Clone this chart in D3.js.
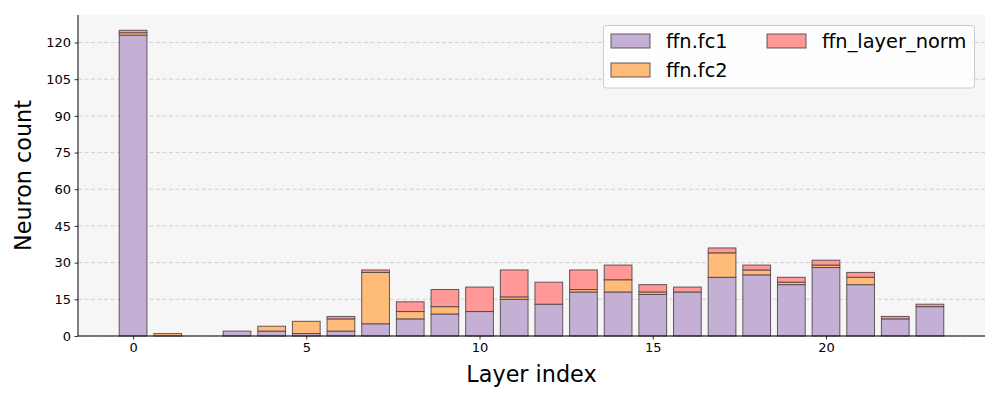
<!DOCTYPE html>
<html><head><meta charset="utf-8">
<script src="https://cdn.jsdelivr.net/npm/d3@7"></script>
<style>body{margin:0;background:#fff;} text{font-family:"DejaVu Sans",sans-serif;}</style>
</head><body><svg id="c" width="1000" height="400"></svg>
<script>
const layers = [0,1,2,3,4,5,6,7,8,9,10,11,12,13,14,15,16,17,18,19,20,21,22,23];
const fc1  = [123,0,0,2,2,1,2,5,7,9,10,15,13,18,18,17,18,24,25,21,28,21,7,12];
const fc2  = [1,1,0,0,2,5,5,21,3,3,0,1,0,1,5,1,0,10,2,1,1,3,0,0];
const norm = [1,0,0,0,0,0,1,1,4,7,10,11,9,8,6,3,2,2,2,2,2,2,1,1];
const seriesNames = ["ffn.fc1","ffn.fc2","ffn_layer_norm"];
const colors = ["#c5b0d5","#ffbb78","#ff9896"];
const yTicks = [0,15,30,45,60,75,90,105,120];
const xTicks = [0,5,10,15,20];

const svg = d3.select("#c");
const L=78,R=985,T=15,B=336;
const x = d3.scaleLinear().domain([-1.59,24.59]).range([L,R]);
const y = d3.scaleLinear().domain([0,131.25]).range([B,T]);

svg.append("rect").attr("x",L).attr("y",T).attr("width",R-L).attr("height",B-T).attr("fill","#f6f6f6");
// grid
svg.append("g").selectAll("line").data(yTicks).join("line")
  .attr("x1",L).attr("x2",R).attr("y1",d=>y(d)).attr("y2",d=>y(d))
  .attr("stroke","#c8c8c8").attr("stroke-width",0.8).attr("stroke-dasharray","4,2.5");

const rows = layers.map((l,i)=>({layer:l,"ffn.fc1":fc1[i],"ffn.fc2":fc2[i],"ffn_layer_norm":norm[i]}));
const stack = d3.stack().keys(seriesNames)(rows);
const bw = x(0.4)-x(-0.4);
stack.forEach((s,si)=>{
  svg.append("g").selectAll("rect").data(s.filter(d=>d[1]-d[0]>0)).join("rect")
    .attr("x",d=>x(d.data.layer)-bw/2).attr("width",bw)
    .attr("y",d=>y(d[1])).attr("height",d=>y(d[0])-y(d[1]))
    .attr("fill",colors[si]).attr("stroke","#4a3f45").attr("stroke-opacity",0.85).attr("stroke-width",1);
});

// axes
const ya = svg.append("g").attr("transform",`translate(${L},0)`).call(d3.axisLeft(y).tickValues(yTicks).tickSize(3.5).tickPadding(3.5));
const xa = svg.append("g").attr("transform",`translate(0,${B})`).call(d3.axisBottom(x).tickValues(xTicks).tickSize(3.5).tickPadding(3.5));
[ya,xa].forEach(a=>{a.selectAll("text").attr("font-size",13).attr("fill","#000").attr("font-family","DejaVu Sans");
  a.selectAll("line").attr("stroke","#000").attr("stroke-width",0.8);
  a.select(".domain").attr("stroke","#000").attr("stroke-width",1);});
ya.select(".domain").attr("d",`M0,${B}V${T}`);
xa.select(".domain").attr("d",`M${L},0H${R}`);

svg.append("text").attr("x",(L+R)/2).attr("y",382).attr("text-anchor","middle").attr("font-size",22.3).text("Layer index");
svg.append("text").attr("transform",`translate(31,${(T+B)/2}) rotate(-90)`).attr("text-anchor","middle").attr("font-size",22.3).text("Neuron count");

// legend
const lg = svg.append("g");
lg.append("rect").attr("x",603.5).attr("y",25.5).attr("width",371).attr("height",62.5).attr("rx",3)
  .attr("fill","#fff").attr("fill-opacity",0.85).attr("stroke","#cccccc");
const pos = [[611,41],[611,70],[767,41]];
seriesNames.forEach((n,i)=>{
  const [px,py]=pos[i];
  lg.append("rect").attr("x",px).attr("y",py-7).attr("width",39).attr("height",14)
    .attr("fill",colors[i]).attr("stroke","#4a3f45").attr("stroke-opacity",0.85);
  lg.append("text").attr("x",px+55).attr("y",py+7).attr("font-size",19.4).text(n);
});
</script></body></html>
